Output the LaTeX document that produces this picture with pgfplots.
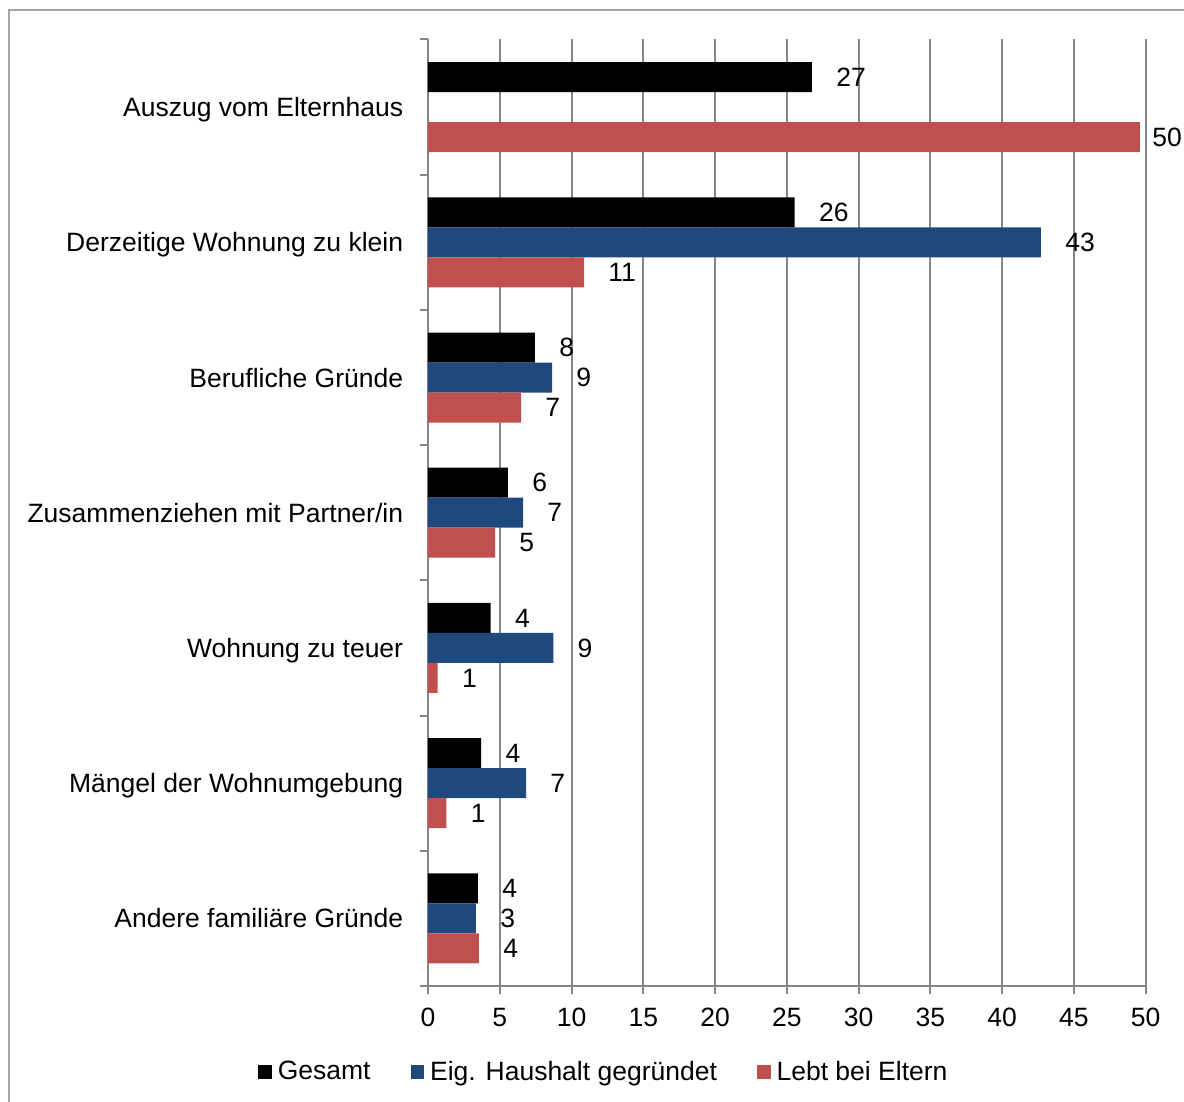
\documentclass[border=0pt]{standalone}
\usepackage{fontspec}
\setmainfont{Liberation Sans}
\usepackage{pgfplots}
\pgfplotsset{compat=1.18}
\definecolor{gridgray}{RGB}{134,134,134}
\definecolor{framegray}{RGB}{165,165,165}
\definecolor{eigblue}{RGB}{31,73,125}
\definecolor{elternred}{RGB}{192,80,77}

\begin{document}
\begin{tikzpicture}[font=\fontsize{13.25}{15.9}\selectfont]
\useasboundingbox (-214pt,-58pt) rectangle (378pt,493pt);
\draw[framegray, line width=1pt] (-209.5pt,-80pt) rectangle (400pt,488pt);
\begin{axis}[
  at={(0,0)}, anchor=south west,
  scale only axis, width=358.85pt, height=473.25pt,
  xbar, bar width=15pt, clip=false,
  xmin=0, xmax=50, xtick={0,5,...,50},
  ymin=-0.5, ymax=6.5,
  ytick={0,...,6},
  yticklabels={Andere familiäre Gründe, Mängel der Wohnumgebung, Wohnung zu teuer,
    Zusammenziehen mit Partner/in, Berufliche Gründe, Derzeitige Wohnung zu klein,
    Auszug vom Elternhaus},
  minor ytick={-0.5,0.5,...,6.5},
  axis x line*=bottom, axis y line*=left,
  axis line style={gridgray, line width=1pt},
  xmajorgrids, major grid style={gridgray, line width=1pt},
  tick align=outside, major tick length=4pt, minor tick length=4pt,
  tick style={gridgray, line width=1pt},
  major y tick style={draw=none},
  /pgf/number format/assume math mode=true,
  x tick label style={inner sep=0pt, yshift=-7pt},
  y tick label style={inner sep=0pt, xshift=-8.25pt, anchor=base east, yshift=-4.75pt},
  point meta=explicit symbolic,
  nodes near coords={\pgfplotspointmeta},
  every node near coord/.append style={anchor=west, inner sep=0pt, xshift=12pt, text=black},
  legend image code/.code={\fill[#1] (0pt,-3.4pt) rectangle (6.8pt,3.4pt);},
  legend style={at={(0.2478,-0.0909)}, anchor=center, draw=none, fill=none,
    legend columns=3, nodes={inner sep=3pt},
    /tikz/every even column/.append style={column sep=17pt}},
]
\addplot[fill=black, draw=none, bar shift=15pt] coordinates {
  (3.48,0) [4]
  (3.71,1) [4]
  (4.37,2) [4]
  (5.57,3) [6]
  (7.45,4) [8]
  (25.55,5) [26]
  (26.75,6) [27]
};
\addplot[fill=eigblue, draw=none, bar shift=0pt] coordinates {
  (3.34,0) [3]
  (6.83,1) [7]
  (8.73,2) [9]
  (6.62,3) [7]
  (8.64,4) [9]
  (42.7,5) [43]
};
\addplot[fill=elternred, draw=none, bar shift=-15pt] coordinates {
  (3.55,0) [4]
  (1.28,1) [1]
  (0.67,2) [1]
  (4.67,3) [5]
  (6.48,4) [7]
  (10.87,5) [11]
  (49.6,6) [\kern-6pt 50]
};
\legend{Gesamt, Eig. Haushalt gegründet, Lebt bei Eltern}
\end{axis}
\end{tikzpicture}
\end{document}
